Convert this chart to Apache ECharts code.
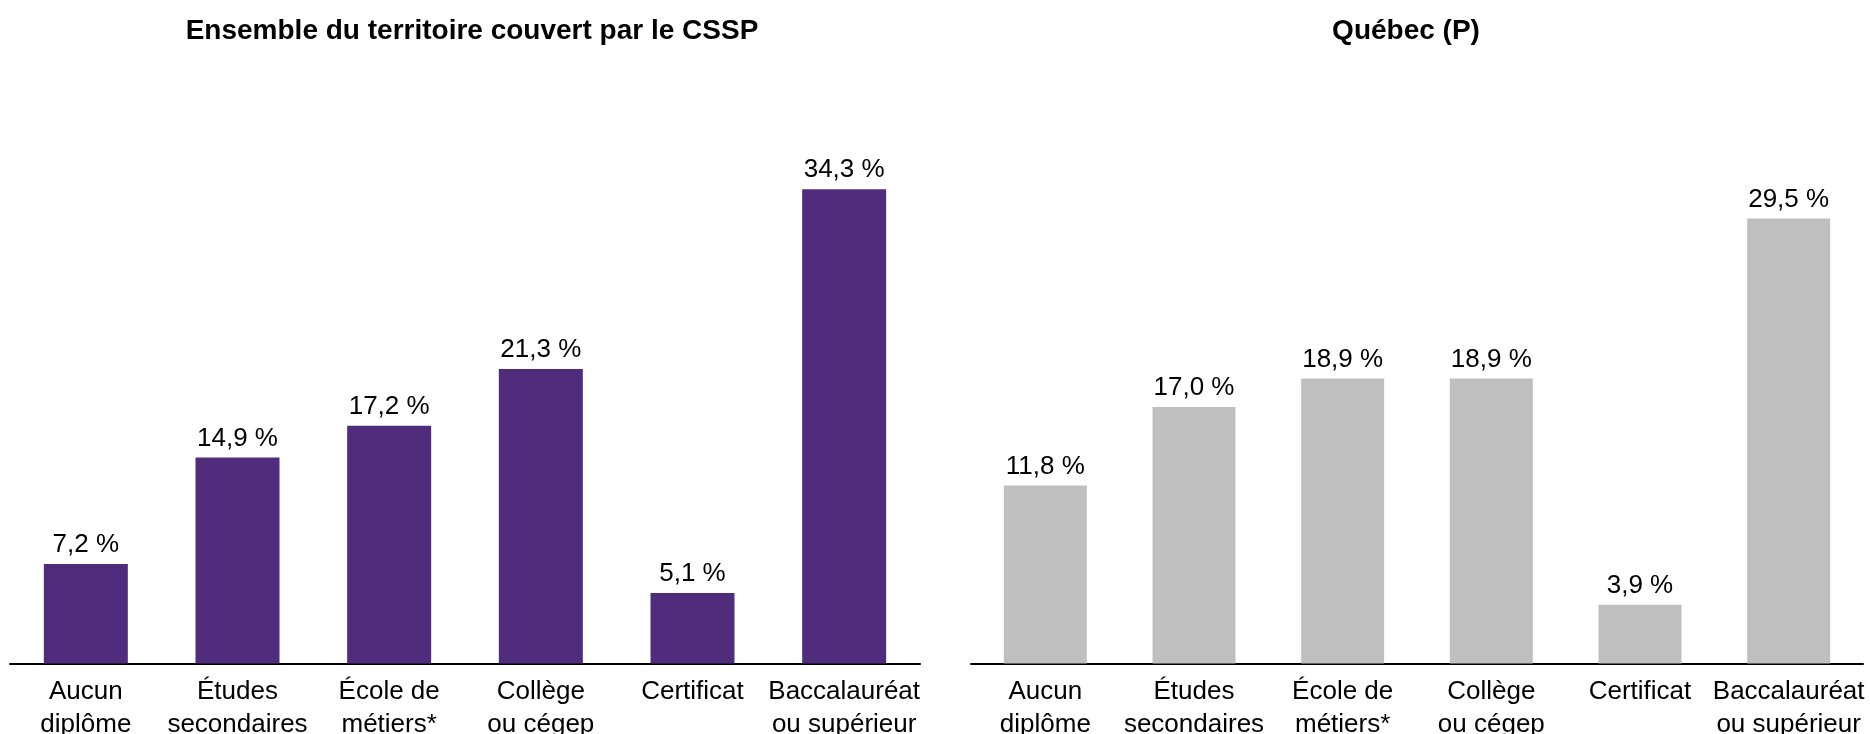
<!doctype html>
<html>
<head>
<meta charset="utf-8">
<title>Scolarité</title>
<script src="https://cdn.jsdelivr.net/npm/echarts@6/dist/echarts.min.js"></script>
<style type="text/css">
	html, body{margin:0; padding:0; background:#fff;}
	#chart{width:1870px; height:734px;}
</style>
</head>
<body>
<div id="chart"></div>
<script type="text/javascript">
// catégories (communes aux deux graphiques)
var categories = ['Aucun\ndiplôme', 'Études\nsecondaires', 'École de\nmétiers*', 'Collège\nou cégep', 'Certificat', 'Baccalauréat\nou supérieur'];
// valeurs en %
var valeursCSSP = [7.2, 14.9, 17.2, 21.3, 5.1, 34.3];
var valeursQuebec = [11.8, 17.0, 18.9, 18.9, 3.9, 29.5];
var titres = ['Ensemble du territoire couvert par le CSSP', 'Québec (P)'];

var police = 'Liberation Sans, Arial, sans-serif';

function fmt(p){
	return p.value.toFixed(1).replace('.', ',') + ' %';
}

function axeX(idx){
	return {
		type: 'category',
		gridIndex: idx,
		data: categories,
		axisLine: {lineStyle: {color: '#000', width: 2}},
		axisTick: {show: false},
		axisLabel: {
			interval: 0,
			margin: 12,
			color: '#000',
			fontSize: 26,
			lineHeight: 33,
			fontFamily: police
		}
	};
}

function axeY(idx, max){
	return {
		type: 'value',
		gridIndex: idx,
		min: 0,
		max: max,
		show: false,
		splitLine: {show: false}
	};
}

function serie(idx, data, couleur, largeur){
	return {
		type: 'bar',
		xAxisIndex: idx,
		yAxisIndex: idx,
		data: data,
		barWidth: largeur,
		itemStyle: {color: couleur},
		label: {
			show: true,
			position: 'top',
			distance: 6,
			color: '#000',
			fontSize: 26,
			fontFamily: police,
			formatter: fmt
		},
		emphasis: {disabled: true}
	};
}

var chart = echarts.init(document.getElementById('chart'));
var option = {
	animation: false,
	title: [
		{
			text: titres[0],
			left: 467,
			top: 12,
			textAlign: 'center',
			textStyle: {fontSize: 28, fontWeight: 'bold', color: '#000', fontFamily: police}
		},
		{
			text: titres[1],
			left: 1401,
			top: 12,
			textAlign: 'center',
			textStyle: {fontSize: 28, fontWeight: 'bold', color: '#000', fontFamily: police}
		}
	],
	grid: [
		{left: 10, width: 910, top: 110.5, height: 553, containLabel: false, outerBoundsMode: 'none'},
		{left: 971, width: 892, top: 120.5, height: 543, containLabel: false, outerBoundsMode: 'none'}
	],
	xAxis: [axeX(0), axeX(1)],
	yAxis: [axeY(0, 40), axeY(1, 36)],
	series: [
		serie(0, valeursCSSP, '#4F2D7C', 84),
		serie(1, valeursQuebec, '#BFBFBF', 83)
	]
};
chart.setOption(option);
</script>
</body>
</html>
